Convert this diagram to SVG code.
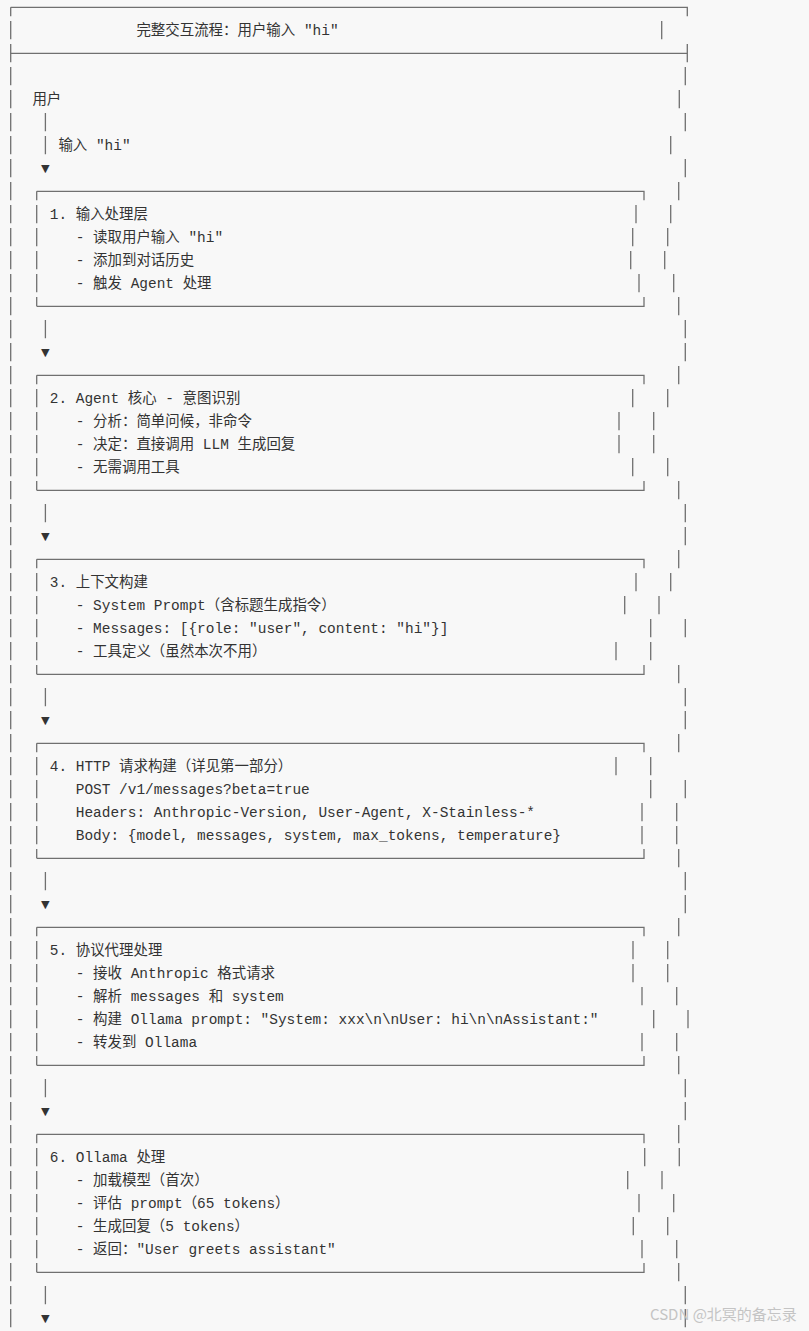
<svg xmlns="http://www.w3.org/2000/svg" width="809" height="1331" viewBox="0 0 809 1331">
<style>
.t{font-family:"Liberation Mono","Noto Sans CJK SC",monospace;font-size:14.45px;fill:#333;white-space:pre}
.ln{fill:none;stroke:#707070;stroke-width:1.3}
.dash{fill:none;stroke:#707070;stroke-width:1.3;stroke-dasharray:18.3 4.7;stroke-dashoffset:9.3}
.arw{font-family:"Liberation Mono","DejaVu Sans Mono",monospace;font-size:14.45px;fill:#333;text-anchor:middle}
.wm{font-family:"Noto Sans CJK SC","Noto Sans",sans-serif;font-size:15px;fill:#c4c4c4}
</style>
<rect x="0" y="0" width="809" height="1331" fill="#f8f8f8"/>

<g id="frame">
<path class="ln" d="M10.7 7.3H687.3V16.3M10.7 53.3H687.3M687.3 44V62.3"/>
<line class="dash" x1="10.7" y1="7.3" x2="10.7" y2="1331"/>
<path class="ln" d="M661.7 21V39.3M685.3 67V85.3M679.3 90V108.3M685.3 113V131.3M670.7 136V154.3M685.3 159V177.3M678.7 182V200.3M670.7 205V223.3M667.7 228V246.3M664.7 251V269.3M673.7 274V292.3M678.7 297V315.3M685.3 320V338.3M685.3 343V361.3M678.7 366V384.3M667.7 389V407.3M653.7 412V430.3M653.7 435V453.3M667.7 458V476.3M678.7 481V499.3M685.3 504V522.3M685.3 527V545.3M678.7 550V568.3M670.7 573V591.3M659 596V614.3M685.3 619V637.3M650.7 642V660.3M678.7 665V683.3M685.3 688V706.3M685.3 711V729.3M678.7 734V752.3M650.7 757V775.3M685.3 780V798.3M676.7 803V821.3M676.7 826V844.3M678.7 849V867.3M685.3 872V890.3M685.3 895V913.3M678.7 918V936.3M667.7 941V959.3M667.7 964V982.3M676.7 987V1005.3M688 1010V1028.3M676.7 1033V1051.3M678.7 1056V1074.3M685.3 1079V1097.3M685.3 1102V1120.3M678.7 1125V1143.3M679.3 1148V1166.3M662 1171V1189.3M673.7 1194V1212.3M667.7 1217V1235.3M676.7 1240V1258.3M678.7 1263V1281.3M685.3 1286V1304.3M685.3 1309V1327.3"/>
<text class="t" x="136.45" y="35.3">完整交互流程：用户输入 "hi"</text>
</g>

<g id="user">
<text class="t" x="32.4" y="104.3">用户</text>
</g>

<g id="box1">
<path class="ln" d="M36.7 191.3H644V200.3M36.7 306.3H644V297M636 205V223.3M632.7 228V246.3M630.7 251V269.3M639 274V292.3"/>
<line class="dash" x1="36.7" y1="191.3" x2="36.7" y2="306.3"/>
<text class="t" x="49.75" y="219.3">1. 输入处理层</text>
<text class="t" x="75.8" y="242.3">- 读取用户输入 "hi"</text>
<text class="t" x="75.8" y="265.3">- 添加到对话历史</text>
<text class="t" x="75.8" y="288.3">- 触发 Agent 处理</text>
</g>

<g id="box2">
<path class="ln" d="M36.7 375.3H644V384.3M36.7 490.3H644V481M632.7 389V407.3M619 412V430.3M619 435V453.3M632.7 458V476.3"/>
<line class="dash" x1="36.7" y1="375.3" x2="36.7" y2="490.3"/>
<text class="t" x="49.75" y="403.3">2. Agent 核心 - 意图识别</text>
<text class="t" x="75.8" y="426.3">- 分析：简单问候，非命令</text>
<text class="t" x="75.8" y="449.3">- 决定：直接调用 LLM 生成回复</text>
<text class="t" x="75.8" y="472.3">- 无需调用工具</text>
</g>

<g id="box3">
<path class="ln" d="M36.7 559.3H644V568.3M36.7 674.3H644V665M636 573V591.3M624.7 596V614.3M650.7 619V637.3M616 642V660.3"/>
<line class="dash" x1="36.7" y1="559.3" x2="36.7" y2="674.3"/>
<text class="t" x="49.75" y="587.3">3. 上下文构建</text>
<text class="t" x="75.8" y="610.3">- System Prompt（含标题生成指令）</text>
<text class="t" x="75.8" y="633.3">- Messages: [{role: "user", content: "hi"}]</text>
<text class="t" x="75.8" y="656.3">- 工具定义（虽然本次不用）</text>
</g>

<g id="box4">
<path class="ln" d="M36.7 743.3H644V752.3M36.7 858.3H644V849M616 757V775.3M650.7 780V798.3M642 803V821.3M642 826V844.3"/>
<line class="dash" x1="36.7" y1="743.3" x2="36.7" y2="858.3"/>
<text class="t" x="49.75" y="771.3">4. HTTP 请求构建（详见第一部分）</text>
<text class="t" x="75.8" y="794.3">POST /v1/messages?beta=true</text>
<text class="t" x="75.8" y="817.3">Headers: Anthropic-Version, User-Agent, X-Stainless-*</text>
<text class="t" x="75.8" y="840.3">Body: {model, messages, system, max_tokens, temperature}</text>
</g>

<g id="box5">
<path class="ln" d="M36.7 927.3H644V936.3M36.7 1065.3H644V1056M633 941V959.3M633 964V982.3M642 987V1005.3M653.7 1010V1028.3M642 1033V1051.3"/>
<line class="dash" x1="36.7" y1="927.3" x2="36.7" y2="1065.3"/>
<text class="t" x="49.75" y="955.3">5. 协议代理处理</text>
<text class="t" x="75.8" y="978.3">- 接收 Anthropic 格式请求</text>
<text class="t" x="75.8" y="1001.3">- 解析 messages 和 system</text>
<text class="t" x="75.8" y="1024.3">- 构建 Ollama prompt: "System: xxx\n\nUser: hi\n\nAssistant:"</text>
<text class="t" x="75.8" y="1047.3">- 转发到 Ollama</text>
</g>

<g id="box6">
<path class="ln" d="M36.7 1134.3H644V1143.3M36.7 1272.3H644V1263M644.7 1148V1166.3M627.7 1171V1189.3M639 1194V1212.3M633.3 1217V1235.3M642 1240V1258.3"/>
<line class="dash" x1="36.7" y1="1134.3" x2="36.7" y2="1272.3"/>
<text class="t" x="49.75" y="1162.3">6. Ollama 处理</text>
<text class="t" x="75.8" y="1185.3">- 加载模型（首次）</text>
<text class="t" x="75.8" y="1208.3">- 评估 prompt（65 tokens）</text>
<text class="t" x="75.8" y="1231.3">- 生成回复（5 tokens）</text>
<text class="t" x="75.8" y="1254.3">- 返回："User greets assistant"</text>
</g>

<g id="connectors">
<path class="ln" d="M45.4 113V131.3M45.4 136V154.3M45.4 320V338.3M45.4 504V522.3M45.4 688V706.3M45.4 872V890.3M45.4 1079V1097.3M45.4 1286V1304.3"/>
<text class="t" x="58.4" y="150.3">输入 "hi"</text>
<text class="arw" x="45.4" y="173.3">▼</text>
<text class="arw" x="45.4" y="357.3">▼</text>
<text class="arw" x="45.4" y="541.3">▼</text>
<text class="arw" x="45.4" y="725.3">▼</text>
<text class="arw" x="45.4" y="909.3">▼</text>
<text class="arw" x="45.4" y="1116.3">▼</text>
<text class="arw" x="45.4" y="1323.3">▼</text>
</g>

<text class="wm" x="650" y="1320">CSDN @北冥的备忘录</text>
</svg>
